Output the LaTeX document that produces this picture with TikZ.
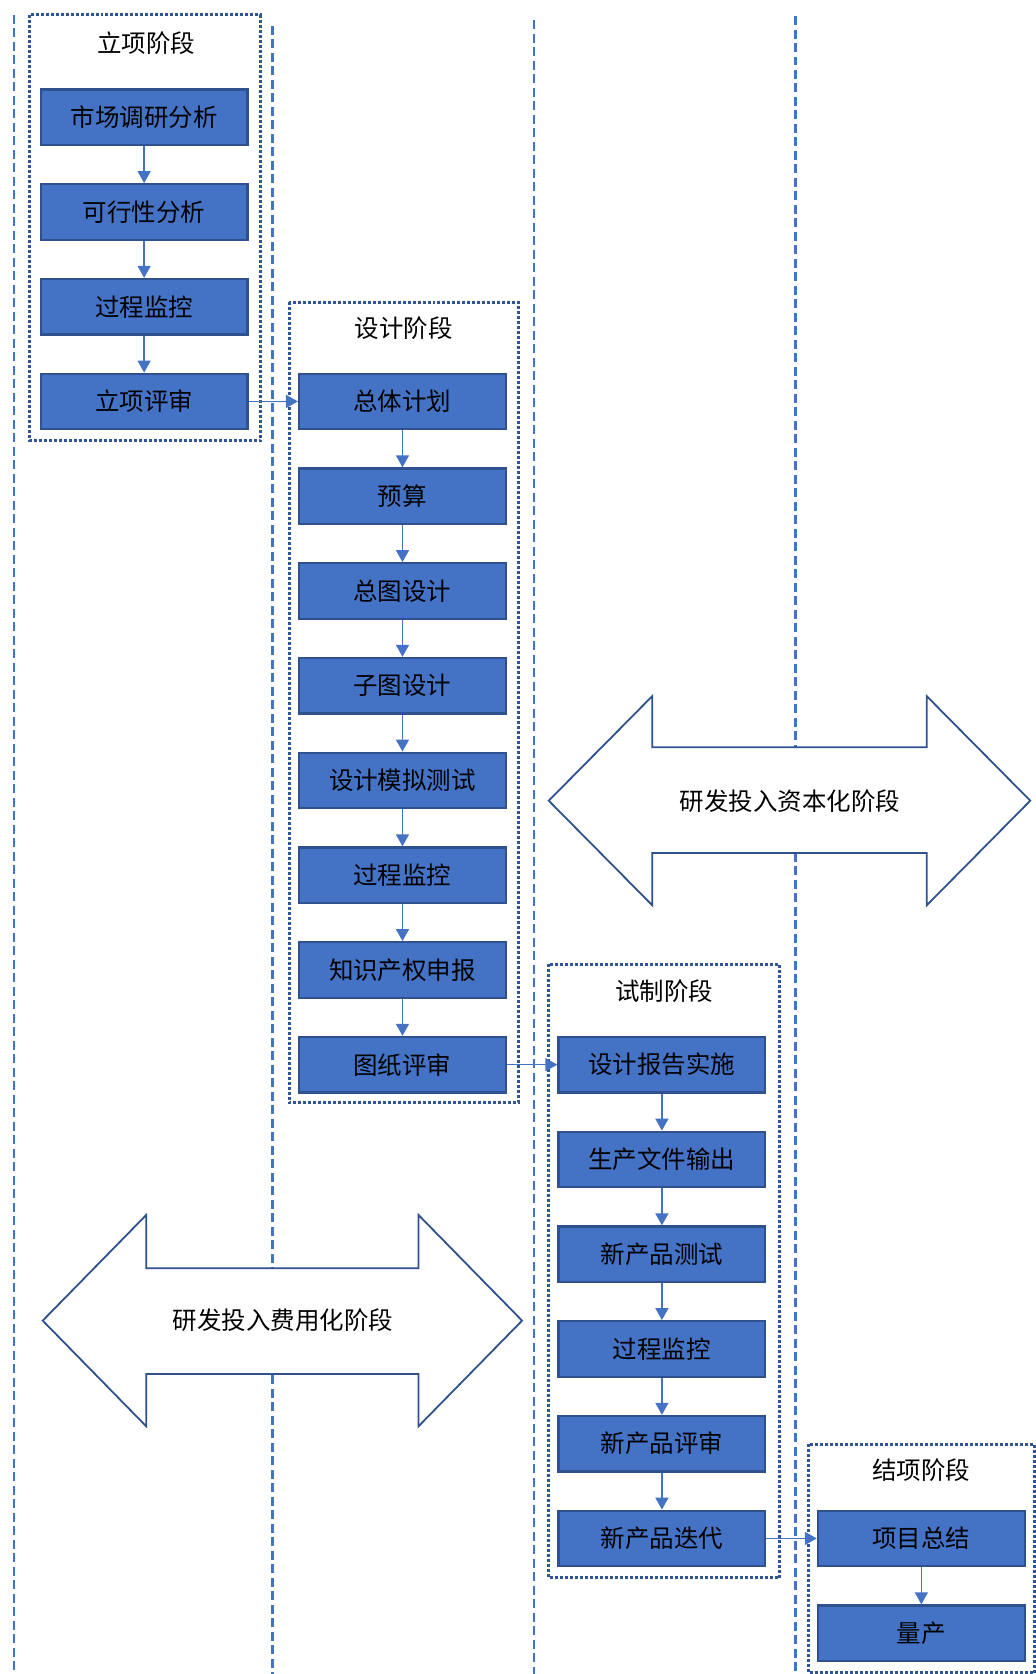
\documentclass[tikz,border=0pt]{standalone}
\usepackage{fontspec}
\newfontfamily\cjk{Noto Sans CJK SC}
\usetikzlibrary{arrows.meta}
\definecolor{boxblue}{HTML}{4472C4}
\definecolor{edgeblue}{HTML}{2F528F}
\definecolor{dotblue}{HTML}{2F5597}
\begin{document}
\begin{tikzpicture}[x=1.068pt,y=-1.068pt,
  stagebox/.style={draw=edgeblue, line width=2.2pt, fill=boxblue, minimum width=207pt, minimum height=55.5pt, inner sep=0pt, font=\cjk\fontsize{24.5}{28}\selectfont, text=black},
  frame/.style={draw=dotblue, line width=3pt, dash pattern=on 3pt off 2pt},
  lane/.style={draw=boxblue, line width=2.6pt, dash pattern=on 9pt off 4.5pt},
  flow/.style={draw=boxblue, line width=1.6pt, -{Triangle[width=13pt,length=12pt]}},
  bigarrow/.style={draw=edgeblue, line width=1.8pt, fill=white, line join=miter},
  titletext/.style={font=\cjk\fontsize{24.5}{28}\selectfont, text=black, inner sep=0pt}
]
\useasboundingbox (0,0) rectangle (970,1568);
% swim lane dashed lines
\draw[lane] (13,14) -- (13,1568);
\draw[lane] (255,24) -- (255,1568);
\draw[lane] (500,19) -- (500,1568);
\draw[lane] (745,15) -- (745,1568);
% big double arrows
\draw[bigarrow] (514,750) -- (611,652) -- (611,700) -- (868,700) -- (868,652) -- (965,750)
  -- (868,848) -- (868,799) -- (611,799) -- (611,848) -- cycle;
\node[titletext] (cap) at (740,750) {研发投入资本化阶段};
\draw[bigarrow] (40,1237) -- (137,1138) -- (137,1188) -- (392,1188) -- (392,1138) -- (489,1237)
  -- (392,1336) -- (392,1287) -- (137,1287) -- (137,1336) -- cycle;
\node[titletext] (exp) at (265,1237) {研发投入费用化阶段};
% stage frames
\draw[frame] (28,14) rectangle (244,413);
\draw[frame] (271,283) rectangle (486,1033);
\draw[frame] (514,903) rectangle (730,1478);
\draw[frame] (757,1353) rectangle (969,1567);
\node[titletext] (t1) at (137,40) {立项阶段};
\node[titletext] (t2) at (378,307) {设计阶段};
\node[titletext] (t3) at (622,928) {试制阶段};
\node[titletext] (t4) at (863,1377) {结项阶段};
% column 1
\node[stagebox] (a1) at (135,109.75) {市场调研分析};
\node[stagebox] (a2) at (135,198.5) {可行性分析};
\node[stagebox] (a3) at (135,287.25) {过程监控};
\node[stagebox] (a4) at (135,376) {立项评审};
% column 2
\node[stagebox] (b1) at (377,376) {总体计划};
\node[stagebox] (b2) at (377,464.75) {预算};
\node[stagebox] (b3) at (377,553.5) {总图设计};
\node[stagebox] (b4) at (377,642.25) {子图设计};
\node[stagebox] (b5) at (377,731) {设计模拟测试};
\node[stagebox] (b6) at (377,819.75) {过程监控};
\node[stagebox] (b7) at (377,908.5) {知识产权申报};
\node[stagebox] (b8) at (377,997.25) {图纸评审};
% column 3
\node[stagebox] (c1) at (620,997.25) {设计报告实施};
\node[stagebox] (c2) at (620,1086) {生产文件输出};
\node[stagebox] (c3) at (620,1174.75) {新产品测试};
\node[stagebox] (c4) at (620,1263.5) {过程监控};
\node[stagebox] (c5) at (620,1352.25) {新产品评审};
\node[stagebox] (c6) at (620,1441) {新产品迭代};
% column 4
\node[stagebox] (d1) at (863,1441) {项目总结};
\node[stagebox] (d2) at (863,1529.75) {量产};
% connectors
\foreach \s/\t in {a1/a2,a2/a3,a3/a4,a4/b1,b1/b2,b2/b3,b3/b4,b4/b5,b5/b6,b6/b7,b7/b8,b8/c1,c1/c2,c2/c3,c3/c4,c4/c5,c5/c6,c6/d1,d1/d2}
  \draw[flow] (\s) -- (\t);
\end{tikzpicture}
\end{document}
